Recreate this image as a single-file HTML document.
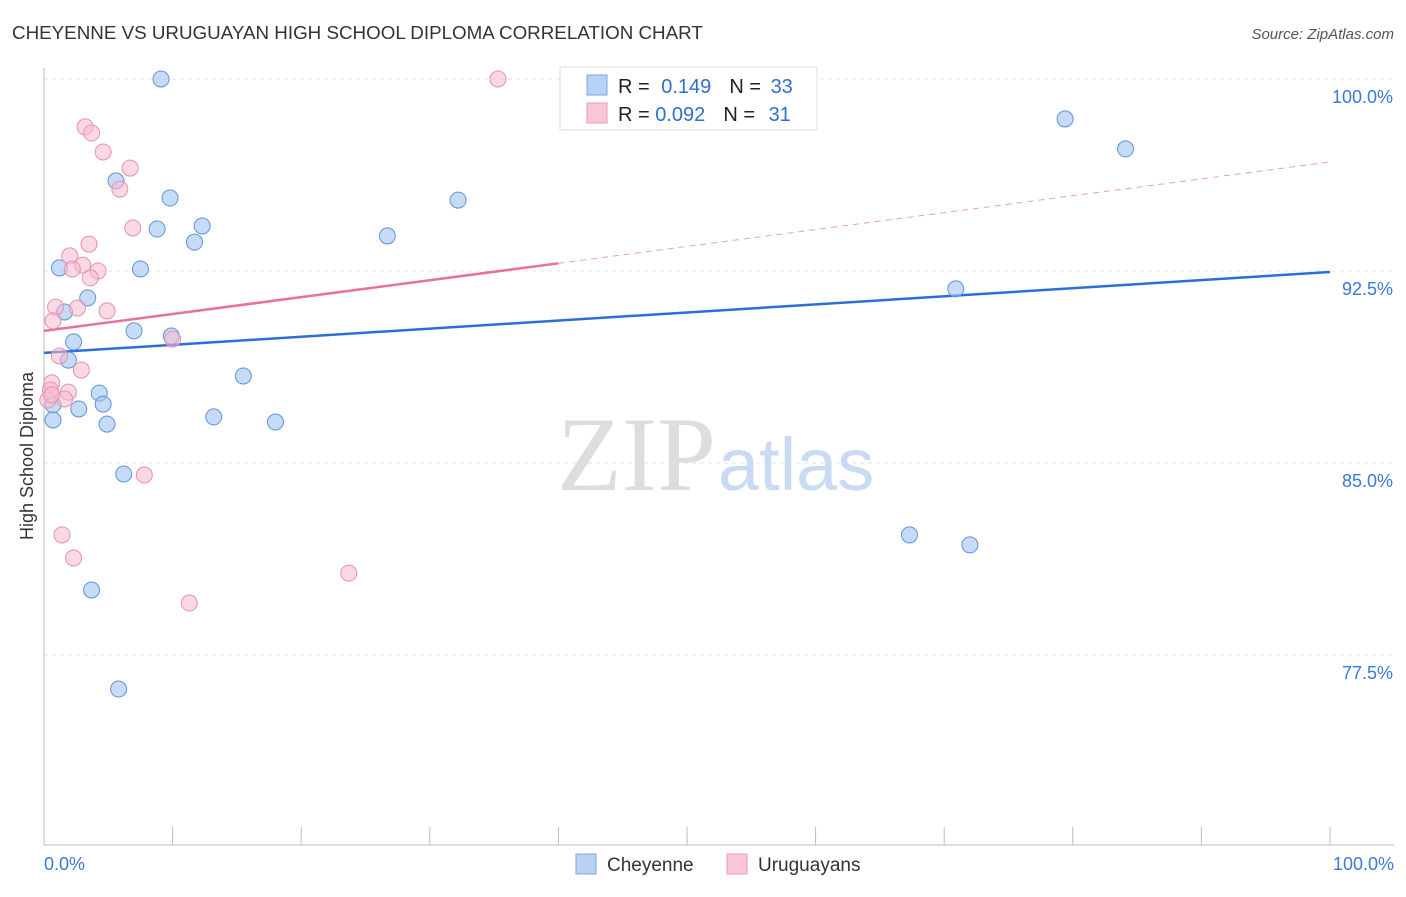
<!DOCTYPE html>
<html><head><meta charset="utf-8"><style>
body{margin:0;background:#fff;font-family:"Liberation Sans",sans-serif;}
svg text{font-family:"Liberation Sans",sans-serif;}
</style></head><body>
<svg id="chart" width="1406" height="892">
<text x="12" y="39" font-size="18.8" fill="#333">CHEYENNE VS URUGUAYAN HIGH SCHOOL DIPLOMA CORRELATION CHART</text>
<text x="1394" y="39" font-size="15" fill="#555" text-anchor="end" font-style="italic">Source: ZipAtlas.com</text>
<text x="33" y="456" font-size="18" fill="#333" text-anchor="middle" transform="rotate(-90 33 456)">High School Diploma</text>
<g id="grid"></g>
<text x="716" y="490" font-size="106" fill="#ddd" text-anchor="end" font-family="Liberation Serif" style="font-family:'Liberation Serif',serif">ZIP</text>
<text x="718" y="490" font-size="74" fill="#c9dbf2">atlas</text>
<g id="lines"></g>
<g id="pts"></g>
<g>
<rect x="560" y="67" width="257" height="63" fill="#fff" stroke="#ddd"/>
<rect x="587" y="75" width="20" height="20" fill="#b8d2f4" stroke="#7aa7e6"/>
<rect x="587" y="103" width="20" height="20" fill="#f9c6d5" stroke="#eb9bb5"/>
<text x="618" y="93" font-size="20" fill="#222">R = <tspan fill="#2f6fd0" dx="6">0.149</tspan><tspan fill="#222" dx="18">N = </tspan><tspan fill="#2f6fd0" dx="4">33</tspan></text>
<text x="618" y="121" font-size="20" fill="#222">R = <tspan fill="#2f6fd0">0.092</tspan><tspan fill="#222" dx="18">N = </tspan><tspan fill="#2f6fd0" dx="8">31</tspan></text>
</g>
<g>
<rect x="576" y="854" width="20" height="20" fill="#b8d2f4" stroke="#7aa7e6"/>
<text x="607" y="871" font-size="19" fill="#333">Cheyenne</text>
<rect x="727" y="854" width="20" height="20" fill="#f9c6d5" stroke="#eb9bb5"/>
<text x="758" y="871" font-size="19" fill="#333">Uruguayans</text>
</g>
</svg>
<script>
const yTicks=[100,92.5,85,77.5];
const yTickLabels=["100.0%","92.5%","85.0%","77.5%"];
const xTickLabels=["0.0%","100.0%"];
const cheyX=[9.1,5.6,9.8,8.8,12.3,11.7,7.5,1.2,3.4,1.6,7.0,9.9,2.3,1.9,15.5,4.3,4.6,2.7,0.7,0.7,4.9,13.2,18.0,6.2,3.7,5.8,26.7,32.2,79.4,84.1,70.9,67.3,72.0];
const cheyY=[100,96.02,95.35,94.14,94.26,93.63,92.58,92.62,91.45,90.9,90.16,89.96,89.73,89.02,88.4,87.73,87.3,87.11,87.27,86.68,86.52,86.8,86.6,84.57,80.04,76.17,93.87,95.27,98.44,97.27,91.8,82.19,81.8];
const uruX=[35.3,3.2,3.7,4.6,6.7,5.9,6.9,3.5,2.0,3.0,2.2,4.2,3.6,0.9,2.6,4.9,0.7,10.0,1.2,2.9,0.6,0.5,1.9,1.6,7.8,1.4,2.3,23.7,11.3,0.3,0.6];
const uruY=[100,98.13,97.89,97.15,96.52,95.7,94.18,93.55,93.09,92.73,92.58,92.5,92.23,91.09,91.05,90.94,90.55,89.84,89.18,88.63,88.13,87.85,87.77,87.5,84.53,82.19,81.29,80.7,79.53,87.46,87.66];
const cheyTrend=[89.3,92.46];
const uruTrend=[90.16,96.76];
const NS="http://www.w3.org/2000/svg";
const X=v=>44+v*12.86, Y=v=>79+(100-v)*25.6;
function mk(tag,attrs,parent){const e=document.createElementNS(NS,tag);for(const k in attrs)e.setAttribute(k,attrs[k]);parent.appendChild(e);return e;}
const grid=document.getElementById('grid'),svg=document.getElementById('chart');
yTicks.forEach((t,i)=>{
 let l=mk('line',{x1:44,x2:1394,y1:Y(t),y2:Y(t),stroke:'#e2e2e2','stroke-dasharray':'4,4'},grid);
 
 
 let tx=mk('text',{x:1393,y:Y(t)+24,'font-size':18,fill:'#3b78d8','text-anchor':'end'},grid);tx.textContent=yTickLabels[i];
 
 
});
mk('line',{x1:44,x2:44,y1:68,y2:845,stroke:'#bbb'},grid);
mk('line',{x1:44,x2:1394,y1:845,y2:845,stroke:'#bbb'},grid);
for(let i=0;i<=10;i++){mk('line',{x1:X(i*10),x2:X(i*10),y1:827,y2:845,stroke:'#bbb'},grid);}
let xl=mk('text',{x:44,y:870,'font-size':18,fill:'#3b78d8'},grid);xl.textContent=xTickLabels[0];


let xr=mk('text',{x:1394,y:870,'font-size':18,fill:'#3b78d8','text-anchor':'end'},grid);xr.textContent=xTickLabels[1];


const lines=document.getElementById('lines');
let bl=mk('line',{x1:X(0),y1:Y(cheyTrend[0]),x2:X(100),y2:Y(cheyTrend[1]),stroke:'#2b6fd6','stroke-width':2.5},lines);


const pAt=x=>uruTrend[0]+(uruTrend[1]-uruTrend[0])*x/100;
let pl=mk('line',{x1:X(0),y1:Y(pAt(0)),x2:X(40),y2:Y(pAt(40)),stroke:'#e8719a','stroke-width':2.5},lines);


let pd=mk('line',{x1:X(40),y1:Y(pAt(40)),x2:X(100),y2:Y(pAt(100)),stroke:'#e8a0b8','stroke-width':1,'stroke-dasharray':'6,5'},lines);


const pts=document.getElementById('pts');
cheyX.forEach((x,i)=>{let c=mk('circle',{cx:X(x),cy:Y(cheyY[i]),r:8,fill:'rgba(160,195,240,0.6)',stroke:'#5f93dc','stroke-width':1},pts);
 
 });
uruX.forEach((x,i)=>{let c=mk('circle',{cx:X(x),cy:Y(uruY[i]),r:8,fill:'rgba(247,185,205,0.55)',stroke:'#e890ad','stroke-width':1},pts);
 
 });
</script>
</body></html>
